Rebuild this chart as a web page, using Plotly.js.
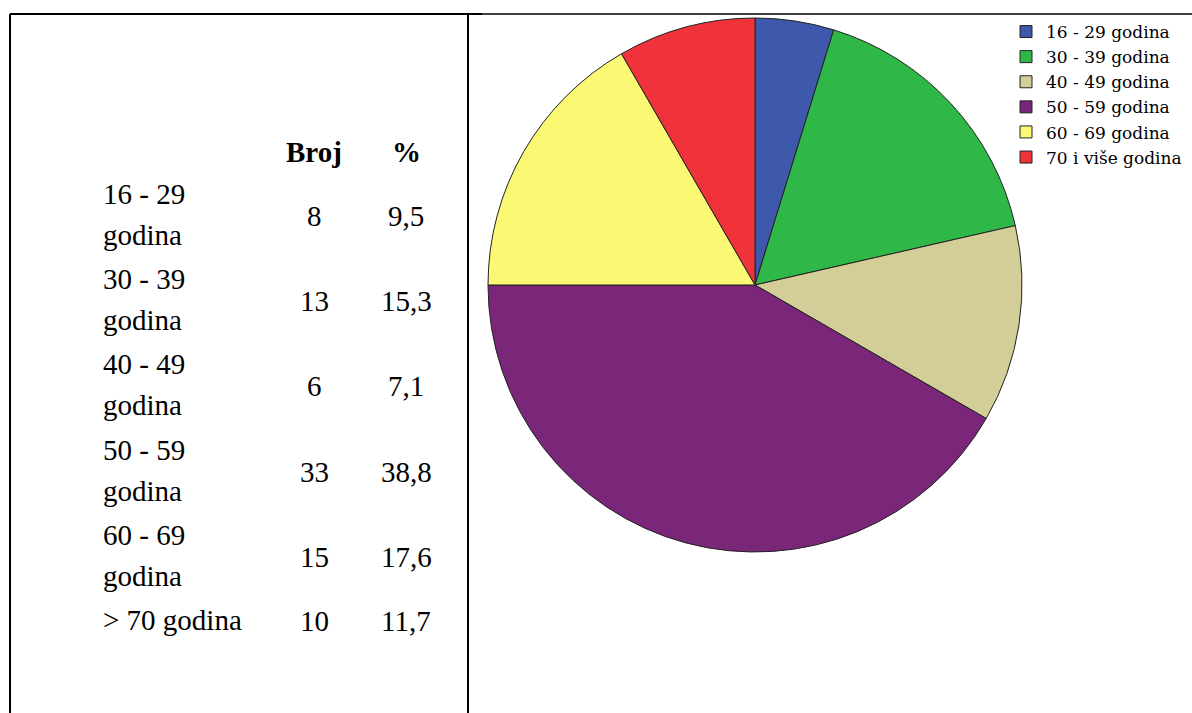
<!DOCTYPE html>
<html>
<head>
<meta charset="utf-8">
<script src="https://cdn.plot.ly/plotly-3.0.1.min.js"></script>
<style>html,body{margin:0;padding:0;background:#fff;}#chart{width:1192px;height:713px;}</style>
</head>
<body>
<div id="chart"></div>
<script>
// ---- data ----
const tableHeader = ["Broj", "%"];
const tableCats = ["16 - 29 godina", "30 - 39 godina", "40 - 49 godina", "50 - 59 godina", "60 - 69 godina", "> 70 godina"];
const tableCounts = [8, 13, 6, 33, 15, 10];
const tablePercents = ["9,5", "15,3", "7,1", "38,8", "17,6", "11,7"];

const pieLabels = ["16 - 29 godina", "30 - 39 godina", "40 - 49 godina", "50 - 59 godina", "60 - 69 godina", "70 i više godina"];
const pieValues = [4, 14, 10, 35, 14, 7];
const pieColors = ["#3E58AC", "#2FB847", "#D3CE97", "#7B2779", "#FBF873", "#F0323A"];

// ---- layout helpers (pixels -> paper) ----
const W = 1192, H = 713;
const px = x => x / W;
const py = y => 1 - y / H;

const serif = "Liberation Serif, Times New Roman, serif";
const fs = 29;
const annotations = [];
function addText(text, x, baseline, anchor, bold) {
  annotations.push({
    xref: "paper", yref: "paper",
    x: px(x), y: py(baseline - 10),
    xanchor: anchor, yanchor: "middle",
    text: bold ? "<b>" + text + "</b>" : text,
    showarrow: false,
    font: {family: serif, size: fs, color: "#000"}
  });
}

const colCount = 314, colPct = 406, colLabel = 101;
addText(tableHeader[0], colCount, 162, "center", true);
addText(tableHeader[1], colPct, 162, "center", true);

const rowStep = 85.2, firstBase = 204, lineGap = 41;
tableCats.forEach((cat, i) => {
  const b = firstBase + rowStep * i;
  const parts = cat.startsWith(">") ? [cat] : [cat.replace(/ godina$/, ""), "godina"];
  parts.forEach((p, j) => addText(p, colLabel, b + j * lineGap, "left", false));
  const nb = parts.length === 2 ? b + lineGap / 2 + 1.5 : b + 1;
  addText(String(tableCounts[i]), colCount, nb, "center", false);
  addText(tablePercents[i], colPct, nb, "center", false);
});

const shapes = [
  {type: "line", xref: "paper", yref: "paper", x0: px(10), x1: px(482), y0: py(14), y1: py(14), line: {color: "#000", width: 2}},
  {type: "line", xref: "paper", yref: "paper", x0: px(482), x1: px(1192), y0: py(14), y1: py(14), line: {color: "#000", width: 1.5}},
  {type: "line", xref: "paper", yref: "paper", x0: px(10), x1: px(10), y0: py(14), y1: 0, line: {color: "#000", width: 2}},
  {type: "line", xref: "paper", yref: "paper", x0: px(468), x1: px(468), y0: py(14), y1: 0, line: {color: "#000", width: 2}}
];

const trace = {
  type: "pie",
  labels: pieLabels,
  values: pieValues,
  sort: false,
  direction: "clockwise",
  rotation: 0,
  textinfo: "none",
  hoverinfo: "skip",
  marker: {colors: pieColors, line: {color: "#222", width: 1}},
  domain: {x: [px(488), px(1022)], y: [py(552), py(18)]}
};

const layout = {
  width: W, height: H,
  margin: {l: 0, r: 0, t: 0, b: 0},
  paper_bgcolor: "#fff",
  plot_bgcolor: "#fff",
  showlegend: true,
  legend: {
    x: px(1006), y: py(14), xanchor: "left", yanchor: "top",
    bgcolor: "rgba(0,0,0,0)",
    font: {family: "DejaVu Serif, serif", size: 17, color: "#000"},
    itemclick: false, itemdoubleclick: false
  },
  shapes: shapes,
  annotations: annotations
};

Plotly.newPlot("chart", [trace], layout, {displayModeBar: false, staticPlot: true});
</script>
</body>
</html>
